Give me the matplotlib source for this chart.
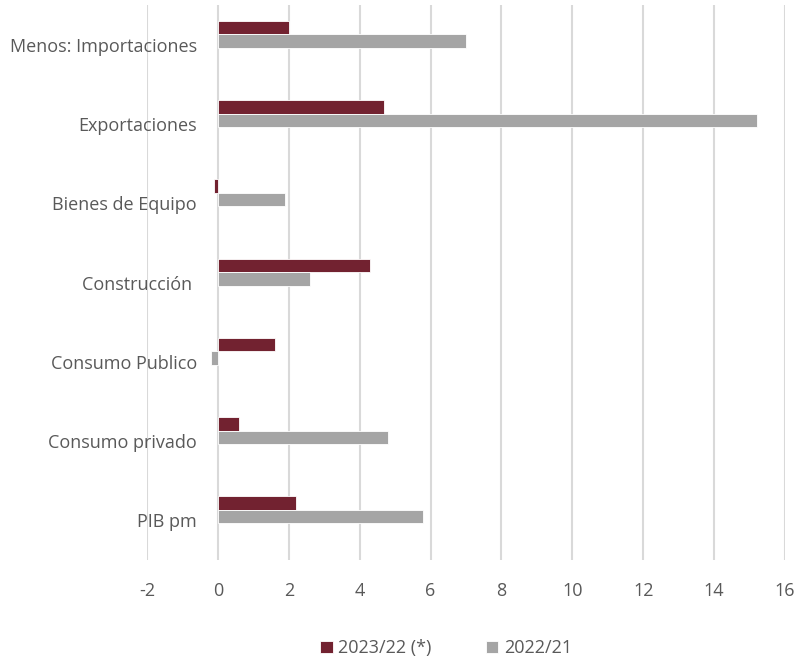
import matplotlib
matplotlib.use("Agg")
import matplotlib.pyplot as plt
import numpy as np

categorias = ["PIB pm", "Consumo privado", "Consumo Publico", "Construcción ",
              "Bienes de Equipo", "Exportaciones", "Menos: Importaciones"]
serie_2023 = [2.2, 0.6, 1.6, 4.3, -0.1, 4.7, 2.0]
serie_2022 = [5.8, 4.8, -0.2, 2.6, 1.9, 15.2, 7.0]
etiquetas = ["2023/22 (*)", "2022/21"]
xticks = [-2, 0, 2, 4, 6, 8, 10, 12, 14, 16]

rojo = "#722230"
gris = "#A5A5A5"
texto = "#595959"

plt.rcParams["font.family"] = ["Open Sans", "DejaVu Sans"]

fig = plt.figure(figsize=(7.96, 6.59), dpi=100)
ax = fig.add_axes([147 / 796, 1 - 560 / 659, 638 / 796, 555 / 659])

y = np.arange(len(categorias))
h = 0.17
b1 = ax.barh(y + 0.216, serie_2023, height=h, color=rojo, edgecolor="white",
             linewidth=0.6, label=etiquetas[0], zorder=3)
b2 = ax.barh(y + 0.046, serie_2022, height=h, color=gris, edgecolor="white",
             linewidth=0.6, label=etiquetas[1], zorder=3)

ax.set_xlim(-2, 16)
ax.set_ylim(-0.5, len(categorias) - 0.5)
ax.set_xticks(xticks)
ax.set_xticklabels([str(t) for t in xticks])
ax.set_yticks(y)
ax.set_yticklabels(categorias)
ax.xaxis.grid(True, color="#D9D9D9", linewidth=1.5, zorder=0)
ax.set_axisbelow(True)
for s in ax.spines.values():
    s.set_visible(False)
ax.tick_params(axis="both", length=0, labelsize=13, colors=texto)
ax.tick_params(axis="x", pad=16)
# las etiquetas de categoría quedan junto al eje en x=0
ax.tick_params(axis="y", pad=-36)

fig.legend(handles=[b1, b2], loc="lower center", bbox_to_anchor=(446 / 796, -0.022),
           ncol=2, frameon=False, fontsize=13, labelcolor=texto,
           handlelength=0.7, handleheight=0.7, handletextpad=0.3, columnspacing=3.0)

fig.savefig("out.png", dpi=100)
